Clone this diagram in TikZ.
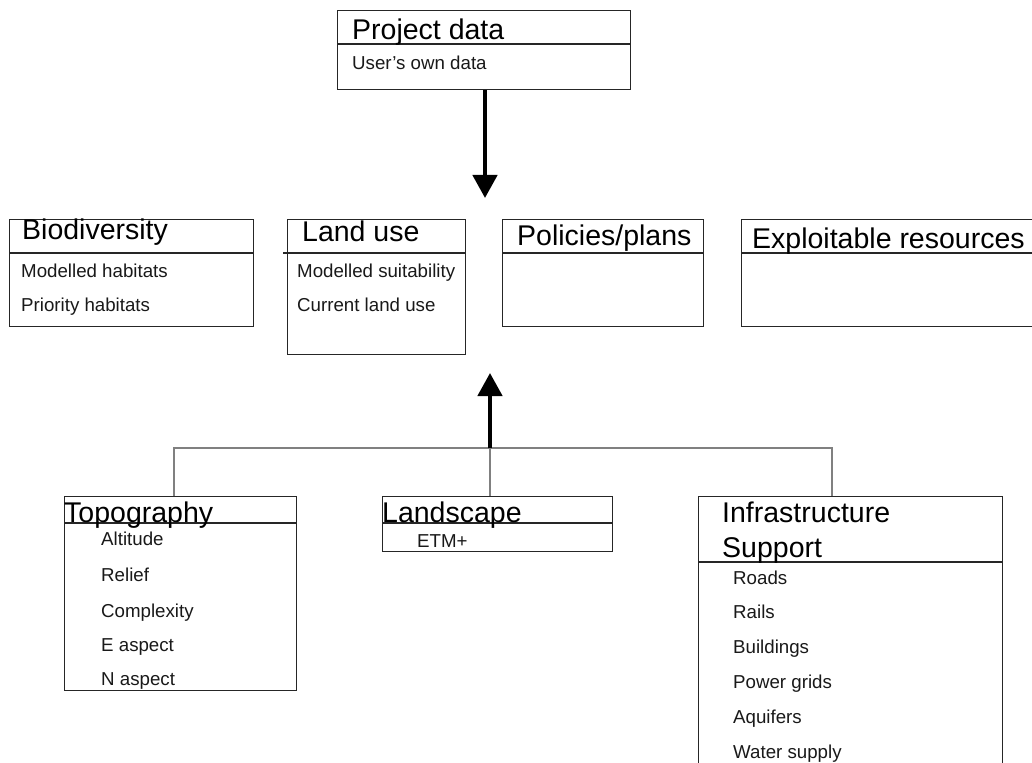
\documentclass[tikz,border=0pt]{standalone}
\usepackage{fontspec}
\setmainfont{Liberation Sans}
\usetikzlibrary{arrows.meta}
\tikzset{
  box/.style={draw=black!85, line width=1.3pt, inner sep=0pt, anchor=north west},
  hline/.style={draw=black!85, line width=1.3pt},
  head/.style={inner sep=0pt, anchor=base west, font=\fontsize{28.5}{30}\selectfont},
  item/.style={inner sep=0pt, anchor=base west, font=\fontsize{18.7}{20}\selectfont, text=black!90},
  conn/.style={draw=black!50, line width=1.5pt},
  bigarrow/.style={draw=black, line width=4.5pt, -{Triangle[width=24pt,length=23pt]}},
}
\begin{document}
\begin{tikzpicture}[x=1pt,y=-1pt]
\useasboundingbox[fill=white] (0,0) rectangle (1032,762);

% Project data
\node[box, minimum width=293pt, minimum height=79pt] (proj) at (337,10) {};
\draw[hline] (337,44) -- (630,44);
\node[head] (projh) at (352,40) {Project data};
\node[item] (proj1) at (352,70) {User's own data};

% Biodiversity
\node[box, minimum width=244pt, minimum height=107pt] (bio) at (9,219) {};
\draw[hline] (9,253) -- (253,253);
\node[head] (bioh) at (22,239) {Biodiversity};
\node[item] (bio1) at (21,277) {Modelled habitats};
\node[item] (bio2) at (21,311) {Priority habitats};

% Land use
\node[box, minimum width=178pt, minimum height=135pt] (land) at (287,219) {};
\draw[hline] (283,253) -- (465,253);
\node[head] (landh) at (302,241) {Land use};
\node[item] (land1) at (297,277) {Modelled suitability};
\node[item] (land2) at (297,311) {Current land use};

% Policies/plans
\node[box, minimum width=201pt, minimum height=107pt] (pol) at (502,219) {};
\draw[hline] (502,253) -- (703,253);
\node[head] (polh) at (517,245) {Policies/plans};

% Exploitable resources
\node[box, minimum width=300pt, minimum height=107pt] (expl) at (741,219) {};
\draw[hline] (741,253) -- (1041,253);
\node[head] (explh) at (752,248) {Exploitable resources};

% Topography
\node[box, minimum width=232pt, minimum height=194pt] (topo) at (64,496) {};
\draw[hline] (64,523) -- (296,523);
\node[head] (topoh) at (64,522) {Topography};
\node[item] (topo1) at (101,545) {Altitude};
\node[item] (topo2) at (101,581) {Relief};
\node[item] (topo3) at (101,617) {Complexity};
\node[item] (topo4) at (101,651) {E aspect};
\node[item] (topo5) at (101,685) {N aspect};

% Landscape
\node[box, minimum width=230pt, minimum height=55pt] (lscp) at (382,496) {};
\draw[hline] (382,523) -- (612,523);
\node[head] (lscph) at (382,522) {Landscape};
\node[item] (lscp1) at (417,547) {ETM+};

% Infrastructure Support
\node[box, minimum width=304pt, minimum height=290pt] (infra) at (698,496) {};
\draw[hline] (698,562) -- (1002,562);
\node[head] (infrah1) at (722,522) {Infrastructure};
\node[head] (infrah2) at (722,557) {Support};
\node[item] (infra1) at (733,584) {Roads};
\node[item] (infra2) at (733,618) {Rails};
\node[item] (infra3) at (733,653) {Buildings};
\node[item] (infra4) at (733,688) {Power grids};
\node[item] (infra5) at (733,723) {Aquifers};
\node[item] (infra6) at (733,758) {Water supply};

% connectors
\coordinate (dtip) at (485,198);
\coordinate (jl) at (174,448);
\coordinate (jm) at (490,448);
\coordinate (jr) at (832,448);
\coordinate (utip) at (490,373);

\draw[bigarrow] (proj.south -| dtip) -- (dtip);
\draw[conn] (topo.north -| jl) -- (jl) -- (jr) -- (infra.north -| jr);
\draw[conn] (lscp.north -| jm) -- (jm);
\draw[bigarrow] (jm) -- (utip);
\end{tikzpicture}
\end{document}
